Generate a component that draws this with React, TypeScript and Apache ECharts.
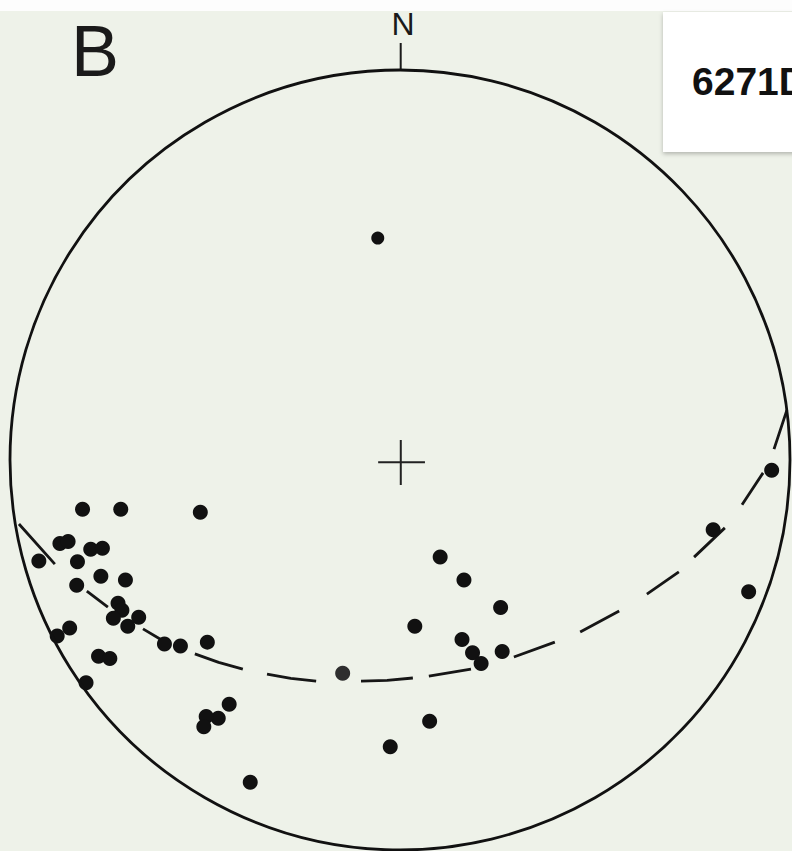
import React, { useEffect, useRef } from "react";
import * as echarts from "echarts";

// Pole positions in the projection plane (unit circle = primitive), x east, y north
const poles: [number, number][] = [
  [-0.057, 0.569],
  [-0.814, -0.126], [-0.716, -0.126], [-0.512, -0.134],
  [-0.872, -0.214], [-0.851, -0.209], [-0.793, -0.229], [-0.763, -0.226],
  [-0.926, -0.259], [-0.827, -0.261], [-0.767, -0.298], [-0.704, -0.308],
  [-0.829, -0.321], [-0.723, -0.367], [-0.713, -0.385], [-0.735, -0.406],
  [-0.670, -0.403], [-0.698, -0.426], [-0.604, -0.472], [-0.563, -0.477],
  [-0.494, -0.467], [-0.847, -0.431], [-0.879, -0.451], [-0.773, -0.503],
  [-0.744, -0.509], [-0.805, -0.571], [-0.438, -0.626], [-0.466, -0.662],
  [-0.497, -0.658], [-0.503, -0.684],
  [0.103, -0.249], [0.164, -0.308], [0.258, -0.378], [0.038, -0.426],
  [0.159, -0.460], [0.186, -0.494], [0.208, -0.522], [0.262, -0.491],
  [0.076, -0.670], [-0.025, -0.735], [-0.384, -0.826],
  [0.953, -0.026], [0.803, -0.179], [0.894, -0.338],
];
const lighterPole: [number, number] = [-0.147, -0.547];

// Dashed great circle, as dash segments
const greatCircleDashes: [number, number][][] = [
  [[-0.977, -0.164], [-0.885, -0.267]],
  [[-0.803, -0.336], [-0.749, -0.377]],
  [[-0.659, -0.433], [-0.610, -0.462]],
  [[-0.526, -0.497], [-0.465, -0.519], [-0.403, -0.536]],
  [[-0.341, -0.549], [-0.280, -0.560], [-0.215, -0.567]],
  [[-0.100, -0.567], [-0.033, -0.565], [0.033, -0.559]],
  [[0.074, -0.554], [0.182, -0.536]],
  [[0.292, -0.505], [0.397, -0.467]],
  [[0.462, -0.441], [0.562, -0.387]],
  [[0.633, -0.344], [0.715, -0.287]],
  [[0.754, -0.249], [0.833, -0.174]],
  [[0.877, -0.115], [0.931, -0.033]],
  [[0.959, 0.028], [0.992, 0.128]],
];

const crossArms: [number, number][][] = [
  [[-0.056, -0.006], [0.064, -0.006]],
  [[0.002, 0.051], [0.002, -0.064]],
];

const title = "B";
const northLabel = "N";
const sampleLabel = "6271D";

function withBreaks(segs: [number, number][][]) {
  const out: any[] = [];
  segs.forEach((s, i) => {
    s.forEach((p) => out.push(p));
    if (i < segs.length - 1) out.push([null, null]);
  });
  return out;
}

export default function App() {
  const ref = useRef<HTMLDivElement>(null);
  useEffect(() => {
    document.body.style.margin = "0";
    const chart = echarts.init(ref.current!, null, { renderer: "svg" });
    const cx = 400, cy = 460, r = 390;
    chart.setOption({
      animation: false,
      backgroundColor: "#eef2e9",
      grid: { left: cx - r, top: cy - r, width: 2 * r, height: 2 * r },
      xAxis: { type: "value", min: -1, max: 1, show: false },
      yAxis: { type: "value", min: -1, max: 1, show: false },
      graphic: [
        { type: "rect", z: -10, shape: { x: 0, y: 0, width: 792, height: 11 }, style: { fill: "#fdfdfd" } },
        {
          type: "rect", z: 5,
          shape: { x: 663, y: 12, width: 140, height: 140 },
          style: { fill: "#ffffff", shadowBlur: 4, shadowColor: "rgba(0,0,0,0.25)", shadowOffsetY: 2 },
        },
        {
          type: "text", z: 6, x: 692, y: 81,
          style: { text: sampleLabel, font: "bold 39px 'Liberation Sans', Arial, sans-serif", fill: "#111", verticalAlign: "middle", textAlign: "left" },
        },
        {
          type: "text", z: 6, x: 71, y: 51,
          style: { text: title, font: "normal 72px 'Liberation Sans', Arial, sans-serif", fill: "#1a1a1a", verticalAlign: "middle", textAlign: "left" },
        },
        {
          type: "text", z: 6, x: 403, y: 24,
          style: { text: northLabel, font: "normal 32px 'Liberation Sans Narrow', 'Liberation Sans', sans-serif", fill: "#1a1a1a", verticalAlign: "middle", textAlign: "center" },
        },
        { type: "line", z: 6, shape: { x1: 400.7, y1: 43, x2: 400.7, y2: 71 }, style: { stroke: "#1a1a1a", lineWidth: 2 } },
        { type: "circle", z: 6, shape: { cx, cy, r }, style: { fill: "none", stroke: "#111", lineWidth: 2.8 } },
      ],
      series: [
        {
          name: "greatCircle", type: "line", data: withBreaks(greatCircleDashes), connectNulls: false,
          showSymbol: false, symbol: "none", lineStyle: { color: "#161616", width: 2.8 }, z: 3,
        },
        {
          name: "cross", type: "line", data: withBreaks(crossArms), connectNulls: false,
          showSymbol: false, symbol: "none", lineStyle: { color: "#222", width: 2 }, z: 3,
        },
        {
          name: "poles", type: "scatter", symbolSize: 15, z: 4,
          itemStyle: { color: "#111", opacity: 1 },
          data: [
            ...poles.map((p, i) => (i === 0 ? { value: p, symbolSize: 13 } : p)),
            { value: lighterPole, itemStyle: { color: "#2e2e2e", opacity: 1 } },
          ],
        },
      ],
    });
    return () => chart.dispose();
  }, []);
  return <div ref={ref} style={{ width: 792, height: 851 }} />;
}
